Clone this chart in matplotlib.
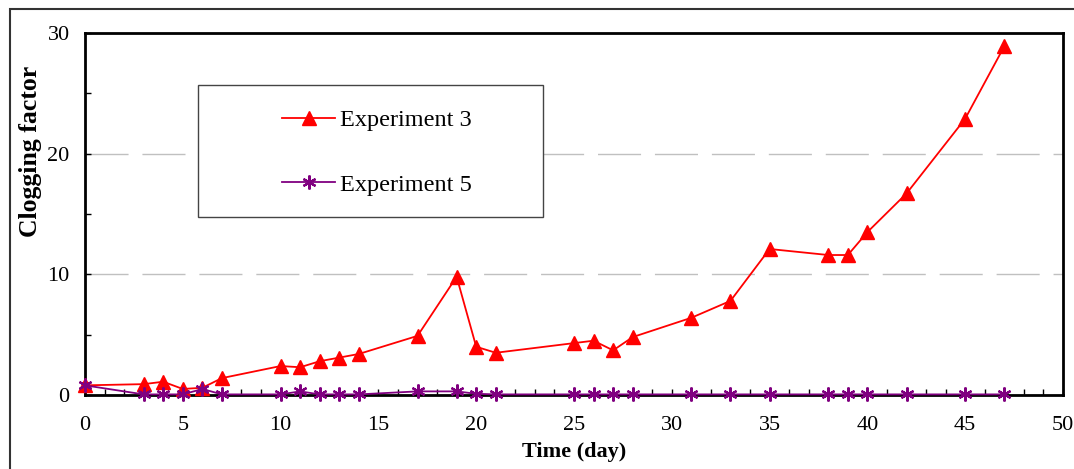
import matplotlib.pyplot as plt
from matplotlib.patches import Rectangle
from matplotlib.ticker import MultipleLocator

plt.rcParams.update({
    'font.family': 'serif',
    'font.serif': ['Liberation Serif', 'DejaVu Serif'],
    'font.size': 16,
})

# ---- data ----
days3 = [0, 3, 4, 5, 6, 7, 10, 11, 12, 13, 14, 17, 19, 20, 21, 25, 26, 27, 28,
         31, 33, 35, 38, 39, 40, 42, 45, 47]
exp3 = [0.8, 0.9, 1.1, 0.5, 0.6, 1.4, 2.4, 2.3, 2.8, 3.1, 3.4, 4.9, 9.8, 4.0,
        3.5, 4.3, 4.5, 3.7, 4.8, 6.4, 7.8, 12.1, 11.6, 11.6, 13.5, 16.7, 22.9, 28.9]
days5 = days3
exp5 = [0.8, 0.05, 0.05, 0.05, 0.5, 0.05, 0.05, 0.3, 0.05, 0.05, 0.05, 0.3, 0.3,
        0.1, 0.05, 0.05, 0.05, 0.05, 0.05, 0.05, 0.05, 0.05, 0.05, 0.05, 0.05,
        0.05, 0.05, 0.05]

W, H = 1074, 469
fig = plt.figure(figsize=(W / 100, H / 100), dpi=100)
ax = fig.add_axes([85 / W, 1 - 395 / H, (1063 - 85) / W, (395 - 33) / H])

# outer frame of the original figure
fig.patches.append(Rectangle((10 / W, -0.1), 1.2, 1 - 9 / H + 0.1,
                             transform=fig.transFigure, fill=False,
                             edgecolor='#333333', linewidth=1.5))

ax.plot(days3, exp3, color='red', marker='^', markersize=10, linewidth=1.3,
        label='Experiment 3', clip_on=False, zorder=3)
ax.plot(days5, exp5, color='#800080', marker=(6, 2, 0), markersize=10,
        markeredgewidth=1.6, linewidth=1.3, label='Experiment 5',
        clip_on=False, zorder=4)

ax.set_xlim(0, 50)
ax.set_ylim(0, 30)
ax.xaxis.set_major_locator(MultipleLocator(5))
ax.xaxis.set_minor_locator(MultipleLocator(1))
ax.yaxis.set_major_locator(MultipleLocator(10))
ax.yaxis.set_minor_locator(MultipleLocator(5))
ax.tick_params(which='both', direction='in', length=4, width=1, labelsize=16)
ax.tick_params(axis='x', pad=15)
ax.tick_params(axis='y', pad=11)
for s in ax.spines.values():
    s.set_linewidth(2)
    s.set_color('black')

ax.yaxis.grid(True, which='major', color='#c0c0c0', linewidth=1,
              linestyle=(0, (31, 10)))
ax.set_axisbelow(True)

ax.set_xlabel('Time (day)', fontweight='bold', fontsize=16, labelpad=5)
ax.set_ylabel('Clogging factor', fontweight='bold', fontsize=18.5)
ax.yaxis.set_label_coords(-43 / 978, (395 - 151) / 362)

# legend box drawn by hand, entries placed inside it
ax.add_patch(Rectangle(((198 - 85) / 978, (395 - 217) / 362), 345 / 978, 132 / 362,
                       transform=ax.transAxes, fill=True, facecolor='white',
                       edgecolor='#444444', linewidth=1, zorder=5))
leg = ax.legend(loc='upper left', bbox_to_anchor=((282 - 85) / 978, (395 - 109) / 362),
                frameon=False, borderpad=0, labelspacing=1.75, handlelength=2.2,
                handletextpad=0.2, borderaxespad=0, fontsize=17.5)
leg.set_zorder(6)

fig.savefig('out.png', dpi=100)
